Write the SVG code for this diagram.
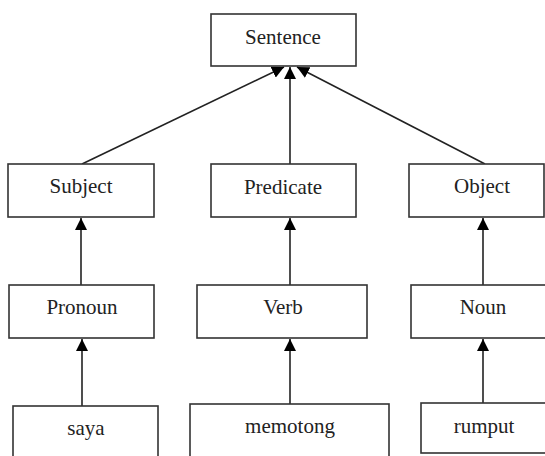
<svg xmlns="http://www.w3.org/2000/svg" width="545" height="456" viewBox="0 0 545 456">
<style>
.box{fill:#fff;stroke:#333;stroke-width:1.6}
.lbl{font-family:"Liberation Serif","Times New Roman",serif;font-size:21px;fill:#222;text-anchor:middle}
.edge{stroke:#222;stroke-width:1.6;fill:none;marker-end:url(#ah)}
</style>
<defs>
<marker id="ah" markerUnits="userSpaceOnUse" markerWidth="12" markerHeight="12" refX="12" refY="6" orient="auto" viewBox="0 0 12 12">
<path d="M0,0 L12,6 L0,12 z" fill="#000"/>
</marker>
</defs>
<rect width="545" height="456" fill="#fff"/>
<g id="connectors">
<line class="edge" x1="82" y1="164" x2="284" y2="67"/>
<line class="edge" x1="290" y1="164" x2="290" y2="67"/>
<line class="edge" x1="485" y1="164" x2="297" y2="67"/>
<line class="edge" x1="81" y1="285" x2="81" y2="218"/>
<line class="edge" x1="290" y1="285" x2="290" y2="218"/>
<line class="edge" x1="483" y1="285" x2="483" y2="218"/>
<line class="edge" x1="82" y1="406" x2="82" y2="339"/>
<line class="edge" x1="290" y1="404" x2="290" y2="339"/>
<line class="edge" x1="483" y1="403" x2="483" y2="339"/>
</g>
<g id="sentence"><rect class="box" x="211" y="14" width="145" height="52"/><text class="lbl" x="283" y="44">Sentence</text></g>
<g id="subject"><rect class="box" x="8" y="164" width="146" height="53"/><text class="lbl" x="81" y="193">Subject</text></g>
<g id="predicate"><rect class="box" x="211" y="164" width="145" height="53"/><text class="lbl" x="283" y="194">Predicate</text></g>
<g id="object"><rect class="box" x="409" y="164" width="135" height="53"/><text class="lbl" x="482" y="193">Object</text></g>
<g id="pronoun"><rect class="box" x="9" y="285" width="145" height="53"/><text class="lbl" x="82" y="314">Pronoun</text></g>
<g id="verb"><rect class="box" x="197" y="285" width="170" height="53"/><text class="lbl" x="283" y="314">Verb</text></g>
<g id="noun"><rect class="box" x="411" y="285" width="150" height="53"/><text class="lbl" x="483" y="314">Noun</text></g>
<g id="saya"><rect class="box" x="13" y="406" width="145" height="70"/><text class="lbl" x="86" y="435">saya</text></g>
<g id="memotong"><rect class="box" x="190" y="404" width="199" height="70"/><text class="lbl" x="290" y="433">memotong</text></g>
<g id="rumput"><rect class="box" x="421" y="403" width="140" height="50"/><text class="lbl" x="484" y="433">rumput</text></g>
</svg>
